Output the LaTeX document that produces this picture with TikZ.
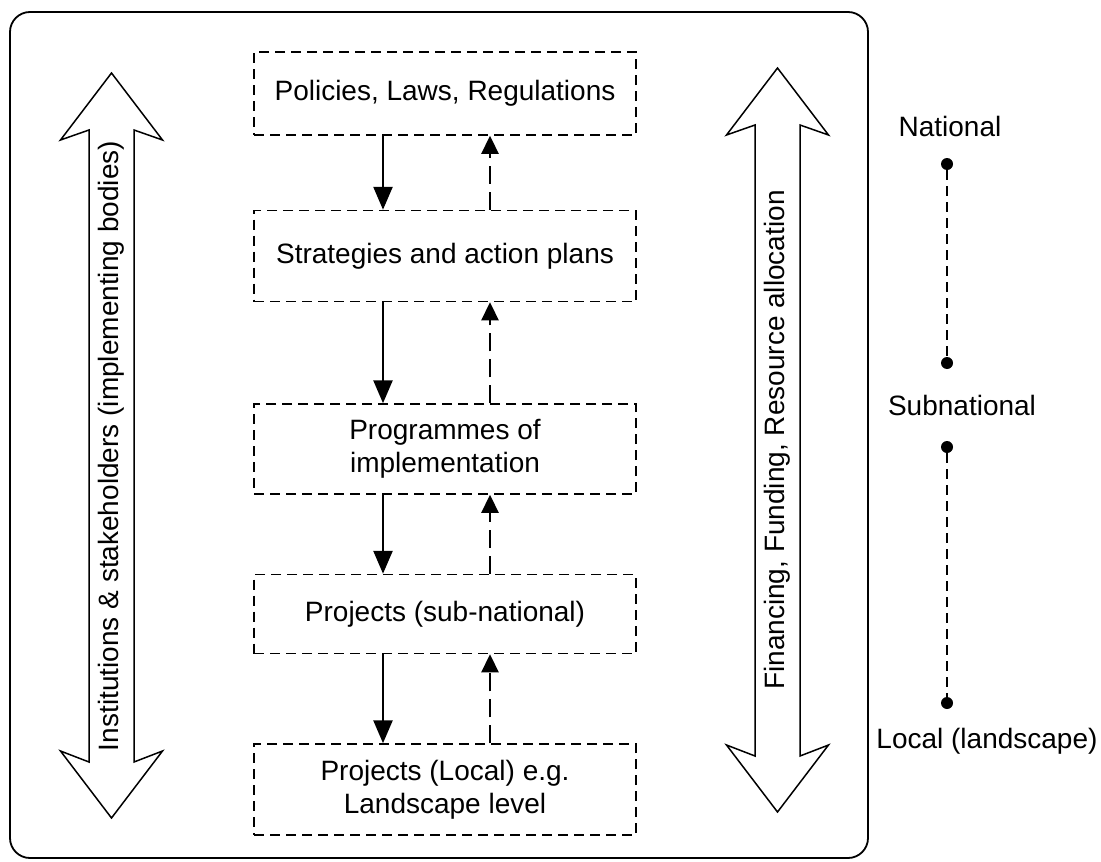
\documentclass[tikz,border=0pt]{standalone}
\usepackage{fontspec}
\setmainfont{Liberation Sans}
\usetikzlibrary{arrows.meta, positioning}

\begin{document}
\begin{tikzpicture}[
  x=1pt, y=-1pt,
  font=\fontsize{28}{33}\selectfont,
  lvl/.style  = {
    rectangle, draw, line width=1.5pt, dash pattern=on 10pt off 6pt,
    minimum width=382pt, align=center, inner sep=0pt
  },
  down/.style = {-{Triangle[length=23pt,width=19pt]}, line width=2.6pt},
  up/.style   = {-{Triangle[length=18pt,width=17pt]}, line width=2.3pt,
                 dash pattern=on 18pt off 8pt},
  bigarr/.style = {draw, line width=1.5pt, line join=miter},
  dot/.style  = {circle, fill, inner sep=0pt, minimum size=12pt},
  scl/.style  = {line width=1.5pt, dash pattern=on 10pt off 6pt}
]
\useasboundingbox (0,0) rectangle (1101,862);

% Rahmen
\draw[line width=1.8pt, rounded corners=20pt] (10,12) rectangle (868,858);

% Ebenen (Mitte)
\node[lvl, minimum height=83pt]                    (pol)  at (445,93.5) {Policies, Laws, Regulations};
\node[lvl, minimum height=91pt, below=74pt of pol]  (str)  {Strategies and action plans};
\node[lvl, minimum height=90pt, below=101pt of str] (prg)  {Programmes of\\implementation};
\node[lvl, minimum height=79pt, below=79pt of prg]  (psn)  {Projects (sub-national)};
\node[lvl, minimum height=91pt, below=89pt of psn]  (ploc) {Projects (Local) e.g.\\Landscape level};

% Pfeile nach unten / oben
\draw[down] ([xshift=-62pt]pol.south) -- ([xshift=-62pt]str.north);
\draw[down] ([xshift=-62pt]str.south) -- ([xshift=-62pt]prg.north);
\draw[down] ([xshift=-62pt]prg.south) -- ([xshift=-62pt]psn.north);
\draw[down] ([xshift=-62pt]psn.south) -- ([xshift=-62pt]ploc.north);
\draw[up] ([xshift=45pt]str.north)  -- ([xshift=45pt]pol.south);
\draw[up] ([xshift=45pt]prg.north)  -- ([xshift=45pt]str.south);
\draw[up] ([xshift=45pt]psn.north)  -- ([xshift=45pt]prg.south);
\draw[up] ([xshift=45pt]ploc.north) -- ([xshift=45pt]psn.south);

% Doppelpfeil links
\draw[bigarr] (111.5,73) -- (162.5,140) -- (134,130) -- (134,762) -- (162.5,751)
  -- (111.5,818) -- (60.5,751) -- (89,762) -- (89,130) -- (60.5,140) -- cycle;
\node[rotate=90] (inst) at (111.5,446) {Institutions \& stakeholders (implementing bodies)};

% Doppelpfeil rechts
\draw[bigarr] (777.5,68) -- (828.5,135) -- (800,125) -- (800,756) -- (828.5,745)
  -- (777.5,812) -- (726.5,745) -- (755,756) -- (755,125) -- (726.5,135) -- cycle;
\node[rotate=90] (fin) at (777.5,440) {Financing, Funding, Resource allocation};

% Skala rechts
\node[dot] (d1) at (947,164) {};
\node[dot] (d2) at (947,363) {};
\node[dot] (d3) at (947,447) {};
\node[dot] (d4) at (947,703) {};
\draw[scl] (d1) -- (d2);
\draw[scl] (d3) -- (d4);
\node[anchor=base] (nat) at (950,136) {National};
\node[anchor=base] (sub) at (962,415) {Subnational};
\node[anchor=base] (loc) at (987,748) {Local (landscape)};

\end{tikzpicture}
\end{document}
